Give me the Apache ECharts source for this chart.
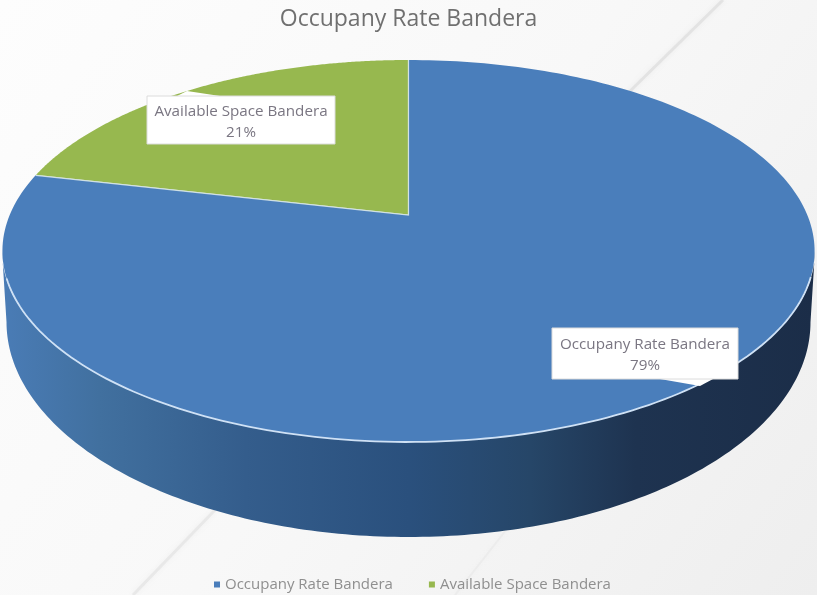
<!DOCTYPE html>
<html>
<head>
<meta charset="utf-8">
<style>
  html, body { margin: 0; padding: 0; background: #f6f6f6; }
  #main { width: 817px; height: 595px; }
</style>
<script src="https://cdn.jsdelivr.net/npm/echarts@6/dist/echarts.min.js"></script>
</head>
<body>
<div id="main"></div>
<script>
var categories = ['Occupany Rate Bandera', 'Available Space Bandera'];
var values = [78.6, 21.4];
var colors = ['#4a7ebb', '#97b84f'];

// tilted disc: perspective mapping of a unit circle onto the screen
var apexX = 408.5, apexY = 215, persp = 0.1885, tiltY = 184.2, widthX = 398.8;
// outline of the rim
var topCy = 251, topRx = 406.5, topRy = 191;
var baseCy = 322, baseRx = 402, baseRy = 215;

// label boxes: x, y, w, h and the callout wedge
var boxes = [
  {x: 552, y: 328, w: 186, h: 51, wedge: [[660, 379], [700, 386], [713, 379]]},
  {x: 147, y: 96, w: 188, h: 48, wedge: [[177, 96], [187, 91], [220, 96]]}
];

var total = values.reduce(function (a, b) { return a + b; }, 0);

function discPoint(frac) {
  var t = frac * Math.PI * 2;
  var u = Math.sin(t), v = Math.cos(t);
  var w = 1 + persp * v;
  return [apexX + u * widthX / w, apexY - tiltY * v / w];
}

function startFrac(idx) {
  var s = 0;
  for (var i = 0; i < idx; i++) s += values[i];
  return s / total;
}

function renderSlice(idx) {
  return function (params, api) {
    var from = startFrac(idx);
    var frac = api.value(0) / total;
    var arc = [];
    for (var i = 0; i <= 240; i++) arc.push(discPoint(from + frac * i / 240));
    var apex = [apexX, apexY];
    var box = boxes[idx];
    var rim = arc.filter(function (p) { return p[1] > 276; });
    var children = [{
      type: 'polygon',
      shape: {points: [apex].concat(arc)},
      style: {fill: colors[idx]}
    }];
    if (rim.length) {
      children.push({
        type: 'polyline',
        shape: {points: rim},
        style: {fill: 'none', stroke: '#cfe1f5', lineWidth: 1.8}
      });
    }
    children.push({
      type: 'polyline',
      shape: {points: [arc[0], apex, arc[arc.length - 1]]},
      style: {fill: 'none', stroke: 'rgba(225,238,235,0.8)', lineWidth: 1.2}
    });
    children.push({
      type: 'polygon',
      shape: {points: box.wedge},
      style: {fill: '#ffffff'}
    });
    children.push({
      type: 'rect',
      shape: {x: box.x, y: box.y, width: box.w, height: box.h},
      style: {fill: '#ffffff', stroke: '#dcdcdc', lineWidth: 1}
    });
    children.push({
      type: 'text',
      style: {
        text: categories[idx] + '\n' + Math.round(api.value(0) / total * 100) + '%',
        x: box.x + box.w / 2,
        y: box.y + box.h / 2 + 2,
        align: 'center',
        verticalAlign: 'middle',
        textAlign: 'center',
        textVerticalAlign: 'middle',
        lineHeight: 21,
        font: '15.2px "Open Sans"',
        fill: '#7a7682'
      }
    });
    return {type: 'group', children: children};
  };
}

// side wall, top rim forwards then base rim backwards
var wall = [];
for (var i = 0; i <= 180; i++) {
  var a = Math.PI * i / 180;
  wall.push([apexX - topRx * Math.cos(a), topCy + topRy * Math.sin(a)]);
}
for (var j = 180; j >= 0; j--) {
  var b = Math.PI * j / 180;
  wall.push([apexX - baseRx * Math.cos(b), baseCy + baseRy * Math.sin(b)]);
}

var myChart = echarts.init(document.getElementById('main'), null, {renderer: 'canvas'});

myChart.setOption({
  animation: false,
  backgroundColor: new echarts.graphic.LinearGradient(0, 0, 1, 1, [
    {offset: 0, color: '#fdfdfd'},
    {offset: 0.5, color: '#f8f8f8'},
    {offset: 1, color: '#eeeeee'}
  ]),
  title: {
    text: 'Occupany Rate Bandera',
    left: 'center',
    top: 3,
    textStyle: {fontFamily: 'Open Sans', fontSize: 23, fontWeight: 'normal', color: '#707070'}
  },
  legend: {
    data: categories,
    left: 209,
    top: 572,
    icon: 'rect',
    itemWidth: 6,
    itemHeight: 6,
    itemGap: 36,
    textStyle: {fontFamily: 'Open Sans', fontSize: 15, color: '#8f8f8f'}
  },
  graphic: [
    {type: 'line', z: 0, shape: {x1: 723, y1: 0, x2: 625, y2: 96},
      style: {stroke: 'rgba(205,205,205,0.4)', lineWidth: 3, shadowBlur: 5, shadowColor: 'rgba(205,205,205,0.6)'}},
    {type: 'line', z: 0, shape: {x1: 215, y1: 510, x2: 133, y2: 595},
      style: {stroke: 'rgba(215,215,215,0.4)', lineWidth: 3, shadowBlur: 5, shadowColor: 'rgba(215,215,215,0.6)'}},
    {type: 'line', z: 0, shape: {x1: 510, y1: 525, x2: 455, y2: 595},
      style: {stroke: 'rgba(222,222,222,0.3)', lineWidth: 2, shadowBlur: 4, shadowColor: 'rgba(222,222,222,0.5)'}},
    {type: 'polygon', z: 1, shape: {points: wall},
      style: {
        fill: new echarts.graphic.LinearGradient(0, 0, 1, 0, [
          {offset: 0, color: '#4a7cb6'},
          {offset: 0.12, color: '#41709f'},
          {offset: 0.3, color: '#345d8c'},
          {offset: 0.5, color: '#2a507d'},
          {offset: 0.65, color: '#264668'},
          {offset: 0.78, color: '#1e3350'},
          {offset: 1, color: '#1b2d48'}
        ])
      }}
  ],
  series: categories.map(function (name, idx) {
    return {
      type: 'custom',
      name: name,
      coordinateSystem: 'none',
      z: 5 - idx,
      silent: true,
      itemStyle: {color: colors[idx]},
      data: [[values[idx]]],
      renderItem: renderSlice(idx)
    };
  })
});
</script>
</body>
</html>
